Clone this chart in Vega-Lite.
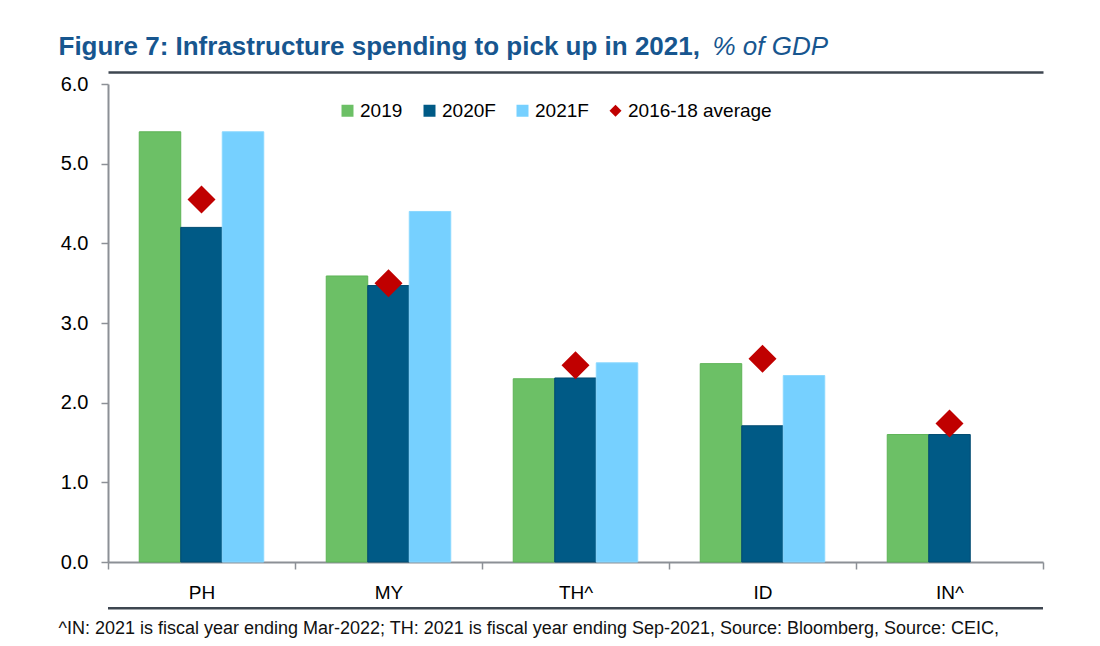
{
  "$schema": "https://vega.github.io/schema/vega-lite/v6.json",
  "width": 935,
  "height": 478,
  "autosize": {"type": "none"},
  "padding": {"left": 108, "top": 84, "right": 57, "bottom": 84},
  "background": "white",
  "config": {
    "font": "Liberation Sans",
    "view": {"stroke": null},
    "legend": {
      "orient": "none",
      "legendX": 230,
      "legendY": 17,
      "direction": "horizontal",
      "labelFontSize": 19,
      "labelColor": "#000000",
      "labelFont": "Liberation Sans",
      "symbolSize": 144,
      "labelOffset": 3,
      "columnPadding": 17,
      "padding": 0,
      "symbolStrokeWidth": 0
    }
  },
  "datasets": {
    "bars": [
      {"country": "PH", "series": "2019", "value": 5.4},
      {"country": "PH", "series": "2020F", "value": 4.2},
      {"country": "PH", "series": "2021F", "value": 5.4},
      {"country": "MY", "series": "2019", "value": 3.59},
      {"country": "MY", "series": "2020F", "value": 3.47},
      {"country": "MY", "series": "2021F", "value": 4.4},
      {"country": "TH^", "series": "2019", "value": 2.3},
      {"country": "TH^", "series": "2020F", "value": 2.31},
      {"country": "TH^", "series": "2021F", "value": 2.5},
      {"country": "ID", "series": "2019", "value": 2.49},
      {"country": "ID", "series": "2020F", "value": 1.71},
      {"country": "ID", "series": "2021F", "value": 2.34},
      {"country": "IN^", "series": "2019", "value": 1.6},
      {"country": "IN^", "series": "2020F", "value": 1.6}
    ],
    "avg": [
      {"country": "PH", "series": "2016-18 average", "value": 4.55},
      {"country": "MY", "series": "2016-18 average", "value": 3.5},
      {"country": "TH^", "series": "2016-18 average", "value": 2.47},
      {"country": "ID", "series": "2016-18 average", "value": 2.55},
      {"country": "IN^", "series": "2016-18 average", "value": 1.74}
    ]
  },
  "resolve": {"axis": {"x": "independent"}},
  "layer": [
    {
      "data": {"name": "bars"},
      "mark": {"type": "bar", "strokeWidth": 1},
      "encoding": {
        "x": {
          "field": "country",
          "type": "nominal",
          "sort": ["PH", "MY", "TH^", "ID", "IN^"],
          "scale": {"paddingInner": 0, "paddingOuter": 0},
          "axis": {
            "orient": "bottom",
            "labelAngle": 0,
            "labelFontSize": 19,
            "labelColor": "#000000",
            "labelPadding": 14,
            "tickSize": 7,
            "tickBand": "extent",
            "tickColor": "#8C9096",
            "tickWidth": 1.5,
            "domainColor": "#8C9096",
            "domainWidth": 2,
            "title": "^IN: 2021 is fiscal year ending Mar-2022; TH: 2021 is fiscal year ending Sep-2021, Source: Bloomberg, Source: CEIC,",
            "titleFontSize": 18,
            "titleFontWeight": "normal",
            "titleColor": "#111111",
            "titleAlign": "left",
            "titleAnchor": "start",
            "titleBaseline": "alphabetic",
            "titleX": -50,
            "titleY": 71
          }
        },
        "xOffset": {
          "field": "series",
          "type": "nominal",
          "scale": {"domain": ["2019", "2020F", "2021F"], "paddingInner": 0, "paddingOuter": 0.753}
        },
        "y": {
          "field": "value",
          "type": "quantitative",
          "scale": {"domain": [0, 6]},
          "axis": {
            "values": [0, 1, 2, 3, 4, 5, 6],
            "format": ".1f",
            "grid": false,
            "labelFontSize": 20,
            "labelColor": "#000000",
            "labelPadding": 13,
            "tickSize": 7,
            "tickColor": "#8C9096",
            "tickWidth": 1.5,
            "domainColor": "#8C9096",
            "domainWidth": 2,
            "title": "Figure 7: Infrastructure spending to pick up in 2021,",
            "titleFontSize": 26,
            "titleFontWeight": "bold",
            "titleColor": "#17568F",
            "titleAngle": 0,
            "titleAlign": "left",
            "titleBaseline": "alphabetic",
            "titleX": -50,
            "titleY": -30
          }
        },
        "color": {
          "field": "series",
          "type": "nominal",
          "scale": {
            "domain": ["2019", "2020F", "2021F", "2016-18 average"],
            "range": ["#6CC066", "#005A86", "#76D0FF", "#C00000"]
          },
          "legend": {"title": null}
        },
        "stroke": {
          "field": "series",
          "type": "nominal",
          "scale": {
            "domain": ["2019", "2020F", "2021F"],
            "range": ["#5DB356", "#004A70", "#8AD8FF"]
          },
          "legend": null
        }
      }
    },
    {
      "data": {"name": "avg"},
      "mark": {"type": "point", "filled": true, "size": 784, "opacity": 1},
      "encoding": {
        "x": {
          "field": "country",
          "type": "nominal",
          "sort": ["PH", "MY", "TH^", "ID", "IN^"],
          "axis": {
            "orient": "top",
            "offset": 12,
            "labels": false,
            "ticks": false,
            "domainColor": "#3E4650",
            "domainWidth": 2.5,
            "title": "% of GDP",
            "titleFontSize": 26,
            "titleFontWeight": "normal",
            "titleFontStyle": "italic",
            "titleColor": "#17568F",
            "titleAlign": "left",
            "titleAnchor": "start",
            "titleBaseline": "alphabetic",
            "titleX": 604,
            "titleY": -18
          }
        },
        "y": {"field": "value", "type": "quantitative"},
        "color": {
          "field": "series",
          "type": "nominal",
          "scale": {"domain": ["2019", "2020F", "2021F", "2016-18 average"]},
          "legend": {"title": null}
        },
        "shape": {
          "field": "series",
          "type": "nominal",
          "scale": {
            "domain": ["2019", "2020F", "2021F", "2016-18 average"],
            "range": ["square", "square", "square", "diamond"]
          },
          "legend": {"title": null}
        }
      }
    },
    {
      "data": {"values": [{}]},
      "mark": {"type": "rule", "color": "#3E4650", "strokeWidth": 2.5},
      "encoding": {"y": {"datum": -0.58}}
    }
  ]
}
